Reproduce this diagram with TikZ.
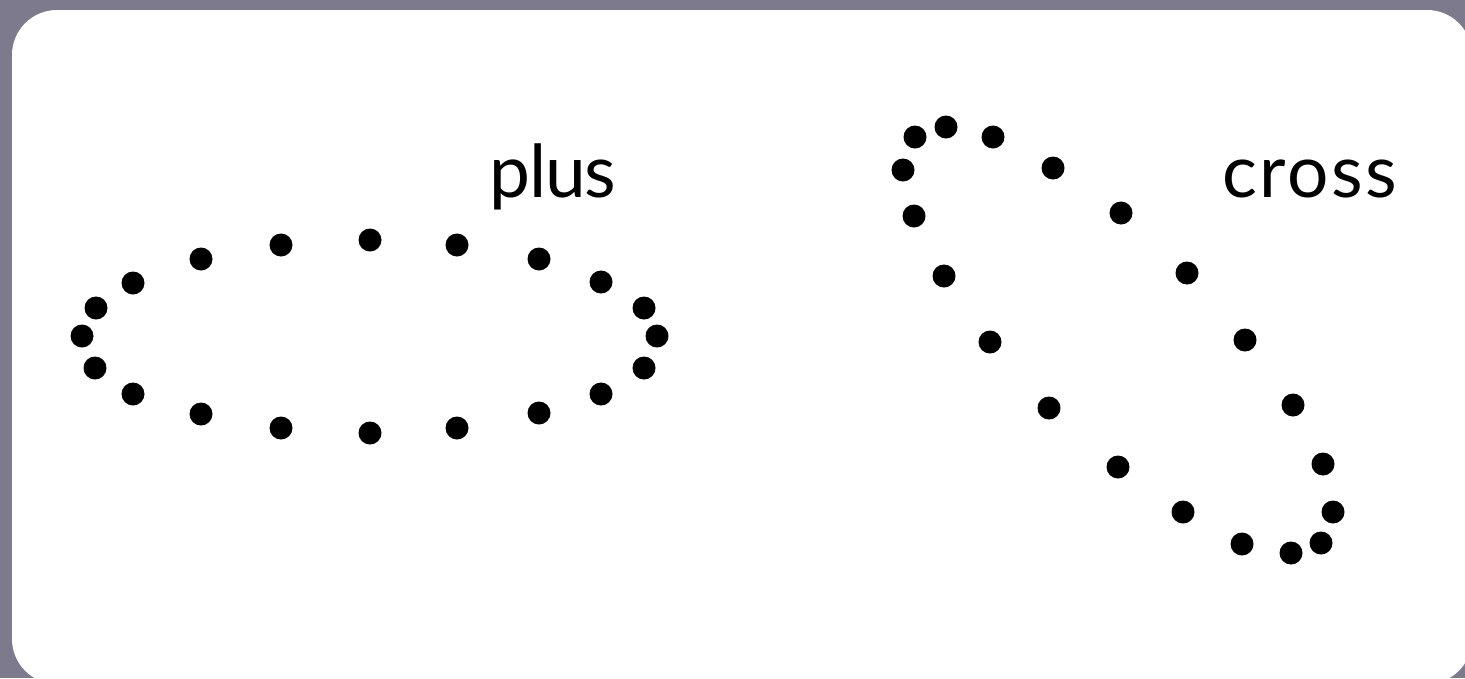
\documentclass[tikz,border=0pt]{standalone}
\usepackage{fontspec}
\setmainfont{Lato}
\definecolor{slidebg}{RGB}{124,122,140}
\tikzset{
  dot/.style={circle,fill=black,inner sep=0pt,minimum size=23pt},
  lbl/.style={anchor=base west,inner sep=0pt,font=\fontsize{73}{80}\selectfont}
}
\begin{document}
\begin{tikzpicture}[x=1pt,y=-1pt]
\useasboundingbox (0,0) rectangle (1465,678);
\fill[slidebg] (0,0) rectangle (1465,678);
\fill[white,rounded corners=45pt] (12,10) rectangle (1472,684);
% ellipse of dots
\foreach \i/\x/\y in {1/82/336,2/96/308,3/133/283,4/201/259,5/281/245,6/370/240,7/457/245,8/539/259,9/601/282,10/644/308,11/657/336,12/644/368,13/601/394,14/539/413,15/457/428,16/370/433,17/281/428,18/201/414,19/133/394,20/95/368}
  \node[dot] (e\i) at (\x,\y) {};
% cross curve of dots
\foreach \i/\x/\y in {1/915/137,2/946/127,3/993/137,4/1053/168,5/1121/213,6/1187/273,7/1245/340,8/1293/405,9/1323/464,10/1333/512,11/1321/543,12/1291/553,13/1242/544,14/1183/512,15/1118/467,16/1049/408,17/990/342,18/944/276,19/914/216,20/903/170}
  \node[dot] (c\i) at (\x,\y) {};
\node[lbl] (plus) at (489,197) {\addfontfeature{LetterSpace=-1.5}plus};
\node[lbl] (cross) at (1222,197) {\addfontfeature{LetterSpace=3.5}cross};
\end{tikzpicture}
\end{document}
